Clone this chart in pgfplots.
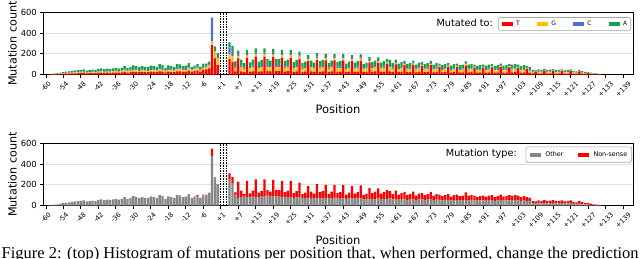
\documentclass[border=0pt]{standalone}
\usepackage{graphicx}
\usepackage{pgfplots}
\pgfplotsset{compat=1.18}
\usepackage{pgfplotstable}
\usepackage{fontspec}
\setmainfont{DejaVu Sans}
\newfontfamily\capfont{Liberation Serif}
\definecolor{cT}{HTML}{FF0000}
\definecolor{cG}{HTML}{FFC000}
\definecolor{cC}{HTML}{4A72D0}
\definecolor{cA}{HTML}{15A050}
\definecolor{cO}{HTML}{868686}
\definecolor{cN}{HTML}{FF0000}
\newcommand{\R}[1]{\rotatebox{45}{#1}}

\pgfplotstableread{
x T G C A
0 0 0 0 0
1 1 0 0 1
2 1 1 1 2
3 2 2 1 3
4 4 2 1 5
5 5 4 2 7
6 7 4 2 9
7 8 6 3 11
8 9 6 3 12
9 10 7 4 14
10 12 8 4 16
11 13 8 4 17
12 14 9 4 18
13 15 10 5 20
14 11 8 4 15
15 13 8 4 17
16 14 10 5 19
17 13 9 4 18
18 16 11 6 22
19 18 12 6 24
20 16 10 5 21
21 17 12 6 23
22 16 11 6 22
23 18 12 6 24
24 19 12 6 25
25 17 12 6 23
26 20 13 6 26
27 24 16 8 32
28 19 12 6 25
29 22 15 8 30
30 26 18 9 35
31 24 16 8 32
32 22 14 7 29
33 24 16 8 32
34 22 15 8 30
35 22 14 7 29
36 26 17 8 34
37 24 16 8 32
38 22 15 8 30
39 30 20 10 40
40 28 18 9 37
41 20 13 6 26
42 26 18 9 35
43 24 16 8 32
44 22 15 8 30
45 30 20 10 40
46 30 20 10 38
47 26 16 8 30
48 28 17 8 32
49 38 22 10 40
50 26 15 7 27
51 32 17 8 28
52 40 20 10 30
53 28 15 7 25
54 45 20 10 30
55 50 20 7 28
56 60 25 10 30
57 285 35 215 15
58 157 66 5 45
59 90 67 10 40
63 150 50 60 50
64 120 60 40 55
65 30 35 12 50
66 157 23 14 37
67 31 40 14 58
68 24 31 11 45
69 162 24 14 38
70 26 33 12 46
71 31 40 14 58
72 173 25 15 41
73 28 35 12 50
74 31 39 14 56
75 173 25 15 41
76 33 42 15 60
77 30 38 13 54
78 168 25 15 39
79 33 42 15 60
80 33 42 15 60
81 162 24 14 38
82 29 36 13 52
83 32 41 14 58
84 162 24 14 38
85 26 34 12 48
86 31 39 14 56
87 151 22 13 36
88 24 31 11 44
89 28 35 12 50
90 129 19 11 31
91 30 38 13 54
92 25 32 12 46
93 140 21 12 33
94 29 36 13 52
95 31 39 14 56
96 136 20 12 32
97 24 31 11 44
98 30 38 13 54
99 136 20 12 32
100 26 34 12 48
101 29 36 13 52
102 136 20 12 32
103 23 29 11 42
104 28 35 12 50
105 129 19 11 31
106 25 32 12 46
107 29 36 13 52
108 133 20 12 30
109 22 28 10 40
110 25 32 12 46
111 114 17 10 27
112 26 34 12 48
113 30 38 13 54
114 112 17 10 26
115 25 32 12 46
116 29 36 13 52
117 102 15 9 24
118 31 39 14 56
119 24 31 11 44
120 97 14 9 23
121 23 29 11 42
122 26 34 12 48
123 90 13 8 22
124 22 28 10 40
125 24 31 11 44
126 92 14 8 21
127 21 27 9 38
128 25 32 12 46
129 82 12 7 19
130 22 28 10 40
131 24 31 11 44
132 90 13 8 22
133 21 27 9 38
134 24 31 11 44
135 71 11 6 17
136 20 25 9 36
137 22 28 10 40
138 75 11 7 17
139 19 24 8 34
140 22 28 10 40
141 71 11 6 17
142 20 25 9 36
143 21 27 9 38
144 86 13 8 20
145 21 27 9 38
146 22 28 10 40
147 65 10 6 14
148 18 22 8 32
149 20 25 9 36
150 65 10 6 14
151 19 24 8 34
152 21 27 9 38
153 68 10 6 16
154 18 22 8 32
155 20 25 9 36
156 71 11 6 17
157 19 24 8 34
158 20 25 9 36
159 68 10 6 16
160 21 27 9 38
161 22 28 10 40
162 65 10 6 14
163 18 22 8 32
164 20 25 9 36
165 54 8 5 13
166 17 21 7 30
167 10 13 4 18
168 27 4 2 7
169 11 14 5 20
170 10 13 4 18
171 37 6 3 9
172 10 13 4 18
173 11 13 5 19
174 35 5 3 9
175 9 12 4 17
176 10 13 4 18
177 34 5 3 8
178 9 11 4 16
179 9 12 4 17
180 34 5 3 8
181 8 10 3 14
182 7 8 3 12
183 31 4 3 7
184 7 9 3 13
185 6 7 2 10
186 15 2 1 4
187 4 5 2 7
188 3 3 1 5
189 5 1 1 1
190 1 1 0 2
}\toptab

\pgfplotstableread{
x O N
0 0 0
1 2 0
2 5 0
3 8 0
4 12 0
5 18 0
6 22 0
7 28 0
8 30 0
9 32 3
10 37 3
11 39 3
12 42 3
13 47 3
14 35 3
15 42 0
16 48 0
17 44 0
18 55 0
19 60 0
20 52 0
21 58 0
22 55 0
23 60 0
24 62 0
25 58 0
26 65 0
27 76 4
28 58 4
29 71 4
30 84 4
31 80 0
32 72 0
33 80 0
34 75 0
35 72 0
36 80 5
37 80 0
38 75 0
39 100 0
40 92 0
41 65 0
42 88 0
43 80 0
44 75 0
45 95 5
46 98 0
47 80 0
48 85 0
49 110 0
50 75 0
51 77 8
52 92 8
53 67 8
54 97 8
55 97 8
56 125 0
57 480 70
58 263 10
59 207 0
63 255 55
64 212 63
65 110 17
66 75 156
67 80 63
68 85 26
69 80 158
70 78 39
71 85 58
72 82 172
73 80 45
74 90 50
75 85 169
76 95 55
77 90 45
78 90 157
79 88 62
80 85 65
81 80 158
82 78 52
83 80 65
84 82 156
85 75 45
86 78 62
87 80 142
88 72 38
89 75 50
90 70 120
91 72 63
92 70 45
93 75 131
94 72 58
95 70 70
96 72 128
97 68 42
98 72 63
99 75 125
100 70 50
101 72 58
102 70 130
103 65 40
104 70 55
105 72 118
106 68 47
107 70 60
108 70 125
109 60 40
110 65 50
111 65 103
112 62 58
113 65 70
114 68 97
115 62 53
116 65 65
117 62 88
118 68 72
119 60 50
120 65 78
121 58 47
122 62 58
123 60 73
124 55 45
125 58 52
126 60 75
127 52 43
128 58 57
129 60 60
130 55 45
131 58 52
132 62 71
133 55 40
134 58 52
135 55 50
136 50 40
137 55 45
138 55 55
139 50 35
140 52 48
141 52 53
142 50 40
143 52 43
144 55 72
145 50 45
146 55 45
147 50 45
148 48 32
149 50 40
150 50 45
151 48 37
152 52 43
153 52 48
154 45 35
155 50 40
156 52 53
157 48 37
158 50 40
159 50 50
160 52 43
161 55 45
162 50 45
163 45 35
164 48 42
165 45 35
166 45 30
167 22 23
168 20 20
169 25 25
170 22 23
171 25 30
172 20 25
173 22 26
174 25 27
175 20 22
176 22 23
177 22 28
178 18 22
179 20 22
180 22 28
181 15 20
182 12 18
183 18 27
184 12 20
185 10 15
186 8 14
187 6 12
188 4 8
189 3 5
190 2 2
}\bottab

\pgfplotsset{
  mut/.style={
    scale only axis, width=590pt, height=62pt,
    xmin=-1, xmax=201.4, ymin=0, ymax=600,
    ybar stacked, bar width=0.8,
    xtick={0,6,...,198},
    xticklabels={\R{-60},\R{-54},\R{-48},\R{-42},\R{-36},\R{-30},\R{-24},\R{-18},\R{-12},\R{-6},\R{+1},\R{+7},\R{+13},\R{+19},\R{+25},\R{+31},\R{+37},\R{+43},\R{+49},\R{+55},\R{+61},\R{+67},\R{+73},\R{+79},\R{+85},\R{+91},\R{+97},\R{+103},\R{+109},\R{+115},\R{+121},\R{+127},\R{+133},\R{+139}},
    ytick={0,200,400,600},
    /pgf/number format/assume math mode=true,
    tick align=outside, major tick length=3.5pt,
    xtick pos=left, ytick pos=left,
    tick style={black, line width=0.8pt},
    ymajorgrids, grid style={black!12, line width=0.8pt},
    axis line style={black, line width=0.9pt},
    yticklabel style={font=\fontsize{8.4}{9}\selectfont, inner sep=0pt, anchor=east, xshift=-2.5pt},
    xticklabel style={font=\fontsize{6.7}{7}\selectfont, anchor=north, inner sep=0pt, yshift=-2.5pt},
    xlabel={Position},
    xlabel style={at={(axis description cs:0.5,0)}, anchor=base, yshift=-38.5pt, font=\fontsize{11.5}{12}\selectfont},
    ylabel={Mutation count},
    every axis y label/.style={at={(axis description cs:0,0.5)}, xshift=-26.3pt, rotate=90, anchor=base, font=\fontsize{11.2}{12}\selectfont},
    legend image code/.code={\fill[##1,draw=none,sharp corners] (0pt,-2pt) rectangle (11pt,2pt);},
    legend columns=4,
  }
}

\begin{document}
\begin{tikzpicture}
\useasboundingbox (0,0) rectangle (640pt,-258pt);

\begin{axis}[mut, at={(43pt,-74.5pt)}, anchor=south west,
  legend style={at={(0.9966,0.925)}, anchor=north east, draw=gray!70, line width=0.6pt,
    rounded corners=1.5pt, fill=white, inner xsep=3pt, inner ysep=3pt,
    font=\fontsize{6}{6}\selectfont,
    nodes={inner sep=0.5pt},
    /tikz/every odd column/.append style={column sep=3pt},
    /tikz/every even column/.append style={column sep=16.5pt}},
  ]
\addplot[fill=cT, draw=none] table[x=x, y=T] {\toptab};
\addlegendentry{T}
\addplot[fill=cG, draw=none] table[x=x, y=G] {\toptab};
\addlegendentry{G}
\addplot[fill=cC, draw=none] table[x=x, y=C] {\toptab};
\addlegendentry{C}
\addplot[fill=cA, draw=none] table[x=x, y=A] {\toptab};
\addlegendentry{A}
\draw[black, line width=0.8pt, dash pattern=on 1.6pt off 1pt] (axis cs:60,0) -- (axis cs:60,600);
\draw[black, line width=0.8pt, dash pattern=on 1.6pt off 1pt] (axis cs:61,0) -- (axis cs:61,600);
\draw[black, line width=0.8pt, dash pattern=on 1.6pt off 1pt] (axis cs:62,0) -- (axis cs:62,600);
\end{axis}

\begin{axis}[mut, at={(43pt,-205.5pt)}, anchor=south west, legend columns=2,
  legend style={at={(0.9983,0.951)}, anchor=north east, draw=gray!70, line width=0.6pt,
    rounded corners=1.5pt, fill=white, inner xsep=4pt, inner ysep=4pt,
    font=\fontsize{6.4}{6.4}\selectfont,
    nodes={inner sep=0.5pt},
    /tikz/every odd column/.append style={column sep=4pt},
    /tikz/every even column/.append style={column sep=14pt}},
  ]
\addplot[fill=cO, draw=none] table[x=x, y=O] {\bottab};
\addlegendentry{Other}
\addplot[fill=cN, draw=none] table[x=x, y=N] {\bottab};
\addlegendentry{Non-sense}
\draw[black, line width=0.8pt, dash pattern=on 1.6pt off 1pt] (axis cs:60,0) -- (axis cs:60,600);
\draw[black, line width=0.8pt, dash pattern=on 1.6pt off 1pt] (axis cs:61,0) -- (axis cs:61,600);
\draw[black, line width=0.8pt, dash pattern=on 1.6pt off 1pt] (axis cs:62,0) -- (axis cs:62,600);
\end{axis}

\node[anchor=base east, inner sep=0pt, font=\fontsize{9.7}{10}\selectfont] at (493pt,-26.3pt) {Mutated to:};
\node[anchor=base east, inner sep=0pt, font=\fontsize{9.7}{10}\selectfont] at (517pt,-156.5pt) {Mutation type:};
\node[anchor=base west, inner sep=0pt, font=\capfont\fontsize{16.5}{18}\selectfont] at (1.5pt,-258.5pt) {Figure 2: (top) Histogram of mutations per position that, when performed, change the prediction};
\end{tikzpicture}
\end{document}
